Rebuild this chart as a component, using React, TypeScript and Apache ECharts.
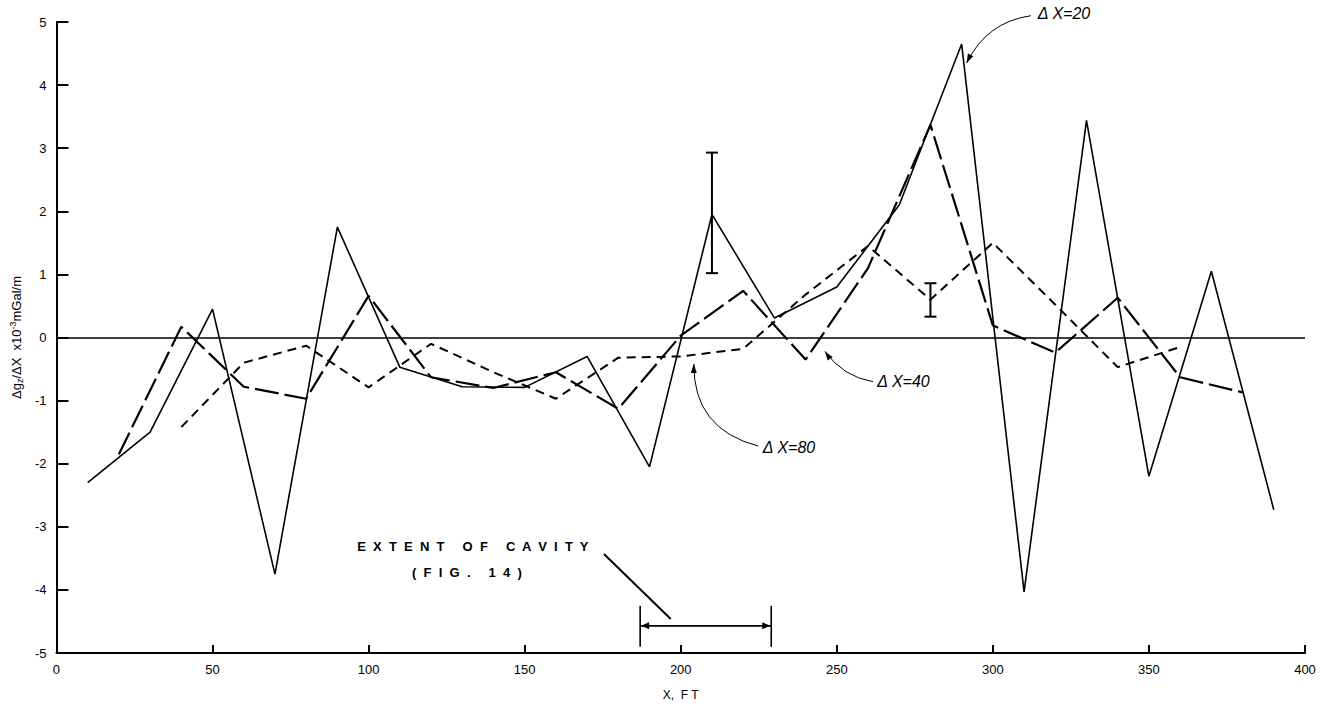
import React, { useEffect, useRef } from "react";
import * as echarts from "echarts";

// ---------- data ----------
const dx20X = [10, 30, 50, 70, 90, 110, 130, 150, 170, 190, 210, 230, 250, 270, 290, 310, 330, 350, 370, 390];
const dx20 = [-2.3, -1.5, 0.45, -3.75, 1.75, -0.47, -0.78, -0.79, -0.3, -2.05, 1.95, 0.31, 0.8, 2.1, 4.65, -4.03, 3.44, -2.2, 1.05, -2.73];

const dx40X = [20, 40, 60, 80, 100, 120, 140, 160, 180, 200, 220, 240, 260, 280, 300, 320, 340, 360, 380];
const dx40 = [-1.85, 0.17, -0.78, -0.97, 0.66, -0.63, -0.8, -0.55, -1.13, 0.03, 0.74, -0.35, 1.1, 3.37, 0.19, -0.24, 0.63, -0.63, -0.87];

const dx80X = [40, 60, 80, 100, 120, 140, 160, 180, 200, 220, 240, 260, 280, 300, 320, 340, 360];
const dx80 = [-1.42, -0.4, -0.13, -0.79, -0.1, -0.55, -0.97, -0.32, -0.3, -0.18, 0.68, 1.45, 0.6, 1.5, 0.52, -0.47, -0.15];

// error bars: [x, low, high]
const errorBars = [
  [210, 1.02, 2.93],
  [280, 0.33, 0.86],
];

// cavity extent (ft) and annotation
const cavityExtent = [187, 229];
const cavityY = -4.57;
const cavityTitle = "EXTENT OF CAVITY";
const cavitySub = "(FIG. 14)";
const cavityTitlePos = [133.4, -3.32];
const cavitySubPos = [131.5, -3.72];
const cavityLeader = [[175.4, -3.43], [196.8, -4.46]];

// curve labels: text anchor (left-middle) and arrow curve [start, control, tip]
const curveLabels = [
  { text: "\u0394 X=20", at: [314.4, 5.13], curve: [[312.2, 5.1], [298, 5.0], [291.6, 4.35]] },
  { text: "\u0394 X=40", at: [263.0, -0.7], curve: [[261.6, -0.7], [252, -0.62], [246.2, -0.22]] },
  { text: "\u0394 X=80", at: [226.3, -1.74], curve: [[224.8, -1.72], [204, -1.45], [204.2, -0.42]] },
];

const xTicks = { min: 0, max: 400, step: 50 };
const yTicks = { min: -5, max: 5, step: 1 };

const FONT = '"Liberation Sans", Arial, Helvetica, sans-serif';

function spaced(s: string) {
  return s
    .split(" ")
    .map((w) => w.split("").join("  "))
    .join("     ");
}

function arrowHead(tip: number[], from: number[], len: number, half: number) {
  const dx = tip[0] - from[0];
  const dy = tip[1] - from[1];
  const d = Math.sqrt(dx * dx + dy * dy) || 1;
  const ux = dx / d;
  const uy = dy / d;
  const bx = tip[0] - ux * len;
  const by = tip[1] - uy * len;
  return [
    [tip[0], tip[1]],
    [bx - uy * half, by + ux * half],
    [bx + uy * half, by - ux * half],
  ];
}

export default function App() {
  const ref = useRef<HTMLDivElement>(null);

  useEffect(() => {
    const chart = echarts.init(ref.current!, null, { renderer: "svg" });

    const toPairs = (xs: number[], ys: number[]) => xs.map((x, i) => [x, ys[i]]);

    const option: any = {
      animation: false,
      backgroundColor: "#ffffff",
      grid: { left: 55, right: 24, top: 22, bottom: 52, containLabel: false },
      xAxis: {
        type: "value",
        min: xTicks.min,
        max: xTicks.max,
        interval: xTicks.step,
        axisLine: { show: true, onZero: false, lineStyle: { color: "#000", width: 2 } },
        axisTick: { show: true, inside: true, length: 8, lineStyle: { color: "#000", width: 2 } },
        axisLabel: { color: "#000", fontSize: 13, fontFamily: FONT, margin: 10 },
        splitLine: { show: false },
        name: "X,  F T",
        nameLocation: "middle",
        nameGap: 36,
        nameTextStyle: { color: "#000", fontSize: 12, fontFamily: FONT },
      },
      yAxis: {
        type: "value",
        min: yTicks.min,
        max: yTicks.max,
        interval: yTicks.step,
        axisLine: { show: true, onZero: false, lineStyle: { color: "#000", width: 2 } },
        axisTick: { show: true, inside: true, length: 12, lineStyle: { color: "#000", width: 2 } },
        axisLabel: { color: "#000", fontSize: 13, fontFamily: FONT, margin: 10 },
        splitLine: { show: false },
        name: "{a|\u0394g}{s|z}{a|/\u0394X  x10}{p|-3}{a|mGal/m}",
        nameLocation: "middle",
        nameGap: 28,
        nameRotate: 90,
        nameTextStyle: {
          color: "#000",
          fontFamily: FONT,
          rich: {
            a: { fontSize: 13, fontFamily: FONT, color: "#000", verticalAlign: "middle", lineHeight: 16 },
            s: { fontSize: 9, fontFamily: FONT, color: "#000", verticalAlign: "bottom", lineHeight: 16 },
            p: { fontSize: 9, fontFamily: FONT, color: "#000", verticalAlign: "top", lineHeight: 16 },
          },
        },
      },
      series: [
        {
          name: "\u0394X=20",
          type: "line",
          data: toPairs(dx20X, dx20),
          symbol: "none",
          lineStyle: { color: "#000", width: 1.6, type: "solid" },
          z: 3,
          markLine: {
            silent: true,
            symbol: ["none", "none"],
            label: { show: false },
            lineStyle: { color: "#000", width: 1.6, type: "solid" },
            data: [[{ coord: [xTicks.min, 0] }, { coord: [xTicks.max, 0] }]],
          },
        },
        {
          name: "\u0394X=40",
          type: "line",
          data: toPairs(dx40X, dx40),
          symbol: "none",
          lineStyle: { color: "#000", width: 2.2, type: [24, 6] },
          z: 3,
        },
        {
          name: "\u0394X=80",
          type: "line",
          data: toPairs(dx80X, dx80),
          symbol: "none",
          lineStyle: { color: "#000", width: 2, type: [9, 6] },
          z: 3,
        },
        {
          name: "error",
          type: "custom",
          data: errorBars,
          encode: { x: 0, y: [1, 2] },
          renderItem: (params: any, api: any) => {
            const x = api.value(0);
            const lo = api.coord([x, api.value(1)]);
            const hi = api.coord([x, api.value(2)]);
            const w = 6;
            const st = { stroke: "#000", lineWidth: 2 };
            return {
              type: "group",
              children: [
                { type: "line", shape: { x1: lo[0], y1: lo[1], x2: hi[0], y2: hi[1] }, style: st },
                { type: "line", shape: { x1: lo[0] - w, y1: lo[1], x2: lo[0] + w, y2: lo[1] }, style: st },
                { type: "line", shape: { x1: hi[0] - w, y1: hi[1], x2: hi[0] + w, y2: hi[1] }, style: st },
              ],
            };
          },
          z: 4,
        },
        {
          name: "annotations",
          type: "custom",
          data: [[0, 0]],
          encode: { x: 0, y: 1 },
          silent: true,
          clip: false,
          renderItem: (params: any, api: any) => {
            const c = (p: number[]) => api.coord(p);
            const children: any[] = [];
            const t1 = c(cavityTitlePos);
            children.push({
              type: "text",
              style: { text: spaced(cavityTitle), x: t1[0], y: t1[1], align: "center", verticalAlign: "middle", fontSize: 13, fontWeight: "bold", fontFamily: FONT, fill: "#000" },
            });
            const t2 = c(cavitySubPos);
            children.push({
              type: "text",
              style: { text: spaced(cavitySub), x: t2[0], y: t2[1], align: "center", verticalAlign: "middle", fontSize: 13, fontWeight: "bold", fontFamily: FONT, fill: "#000" },
            });
            const l1 = c(cavityLeader[0]);
            const l2 = c(cavityLeader[1]);
            children.push({ type: "line", shape: { x1: l1[0], y1: l1[1], x2: l2[0], y2: l2[1] }, style: { stroke: "#000", lineWidth: 2 } });
            const a = c([cavityExtent[0], cavityY]);
            const b = c([cavityExtent[1], cavityY]);
            children.push({ type: "line", shape: { x1: a[0], y1: a[1], x2: b[0], y2: b[1] }, style: { stroke: "#000", lineWidth: 1.6 } });
            children.push({ type: "line", shape: { x1: a[0], y1: a[1] - 20, x2: a[0], y2: a[1] + 21 }, style: { stroke: "#000", lineWidth: 1.6 } });
            children.push({ type: "line", shape: { x1: b[0], y1: b[1] - 20, x2: b[0], y2: b[1] + 21 }, style: { stroke: "#000", lineWidth: 1.6 } });
            children.push({ type: "polygon", shape: { points: arrowHead([a[0] + 1, a[1]], [a[0] + 20, a[1]], 8, 3.5) }, style: { fill: "#000" } });
            children.push({ type: "polygon", shape: { points: arrowHead([b[0] - 1, b[1]], [b[0] - 20, b[1]], 8, 3.5) }, style: { fill: "#000" } });
            curveLabels.forEach((lab) => {
              const p = c(lab.at);
              children.push({
                type: "text",
                style: { text: lab.text, x: p[0], y: p[1], align: "left", verticalAlign: "middle", fontSize: 16, fontStyle: "italic", fontFamily: FONT, fill: "#000" },
              });
              const s = c(lab.curve[0]);
              const k = c(lab.curve[1]);
              const e = c(lab.curve[2]);
              children.push({
                type: "bezierCurve",
                shape: { x1: s[0], y1: s[1], cpx1: k[0], cpy1: k[1], x2: e[0], y2: e[1] },
                style: { stroke: "#000", lineWidth: 1, fill: null },
              });
              children.push({ type: "polygon", shape: { points: arrowHead(e, k, 9, 3) }, style: { fill: "#000" } });
            });
            return { type: "group", children };
          },
          z: 5,
        },
      ],
    };

    chart.setOption(option);
    return () => chart.dispose();
  }, []);

  return (
    <div
      ref={ref}
      style={{ position: "fixed", left: 0, top: 0, width: 1329, height: 706, background: "#fff" }}
    />
  );
}
